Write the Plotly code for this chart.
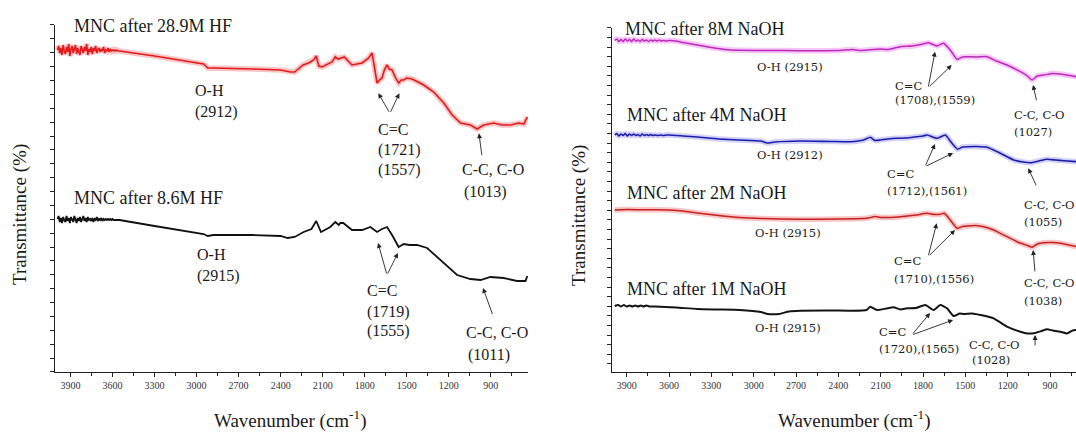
import plotly.graph_objects as go

# ---------------- data (wavenumber cm-1, transmittance a.u.) ----------------
# noisy high-wavenumber region of the HF spectra
hf_noise_wn = [3992, 3984, 3976, 3968, 3960, 3952, 3944, 3936, 3928, 3920, 3912, 3904, 3896, 3888,
               3880, 3872, 3864, 3856, 3848, 3840, 3832, 3824, 3816, 3808, 3800, 3792, 3784, 3776,
               3768, 3760, 3752, 3744, 3736, 3728, 3720, 3712, 3704, 3696, 3688, 3680, 3672, 3664,
               3656, 3648, 3640, 3632, 3624, 3616, 3608, 3600, 3592, 3584, 3576, 3568, 3560]
hf_28_9M_noise = [322, 326, 319, 324, 317, 327, 321, 318, 325, 320, 328, 316, 323, 326, 319, 322,
                  327, 318, 324, 320, 317, 326, 322, 319, 325, 321, 328, 317, 323, 320, 325, 318,
                  324, 321, 326, 319, 322, 324, 320, 323, 321, 325, 319, 322, 321, 324, 320, 323,
                  321, 322, 321, 322, 321, 322, 321]
hf_8_6M_noise = [153, 156, 150, 154, 149, 155, 152, 150, 156, 151, 154, 149, 155, 153, 150, 156,
                 152, 149, 154, 151, 155, 150, 153, 156, 151, 154, 150, 155, 152, 153, 151, 154,
                 150, 153, 152, 155, 151, 153, 152, 154, 151, 153, 152, 153, 152, 153, 152, 153,
                 152, 153, 152, 152, 152, 152, 152]

hf_28_9M = [(3550, 321), (3300, 316), (3000, 309), (2950, 308), (2920, 304), (2880, 304), (2600, 303),
            (2400, 302), (2330, 300), (2300, 300), (2240, 307), (2200, 309), (2165, 312), (2146, 316),
            (2128, 306), (2105, 305), (2034, 310), (2010, 315), (1990, 313), (1974, 314), (1946, 315),
            (1891, 307), (1819, 309), (1772, 314), (1748, 319), (1731, 305), (1712, 289), (1695, 292),
            (1677, 294), (1660, 302), (1641, 307), (1625, 303), (1605, 302), (1580, 294), (1558, 289),
            (1540, 292), (1522, 292), (1500, 294), (1462, 293), (1420, 290), (1379, 287), (1308, 280),
            (1236, 269), (1176, 257), (1117, 249), (1046, 247), (998, 243), (951, 247), (879, 249),
            (820, 247), (760, 247), (700, 249), (665, 248), (640, 255)]

hf_8_6M = [(3550, 152), (3300, 146), (3000, 139), (2950, 138), (2920, 136), (2880, 137), (2600, 137),
           (2400, 136), (2350, 134), (2300, 135), (2236, 140), (2180, 143), (2146, 151), (2112, 140),
           (2046, 145), (2010, 150), (1985, 147), (1974, 149), (1953, 149), (1891, 142), (1819, 142),
           (1760, 145), (1712, 140), (1677, 143), (1641, 145), (1605, 137), (1558, 125), (1522, 128),
           (1480, 127), (1427, 127), (1355, 124), (1284, 115), (1212, 105), (1141, 97), (1046, 93),
           (974, 92), (903, 95), (808, 94), (713, 91), (653, 91), (640, 96)]

naoh_8M = [(3985, 331.5), (3970, 333), (3955, 330.5), (3940, 332.5), (3925, 330.5), (3910, 333),
           (3895, 331), (3880, 332.5), (3865, 330.5), (3850, 333), (3835, 331), (3820, 332),
           (3805, 330.5), (3790, 332.5), (3775, 331), (3760, 332), (3745, 330.5), (3730, 332),
           (3715, 331), (3700, 332), (3685, 331), (3670, 332), (3655, 331), (3640, 331.5),
           (3620, 331), (3600, 331.5),
           (3550, 331), (3500, 329.5), (3400, 327), (3300, 324.5), (3200, 322.5), (3100, 321.8),
           (2900, 321.5), (2671, 321.3), (2400, 321.5), (2300, 322.5), (2250, 321.5), (2198, 322),
           (2100, 323), (2050, 322.5), (1961, 325.3), (1880, 326), (1800, 328), (1761, 329.3),
           (1701, 326), (1654, 328.7), (1607, 322), (1559, 312.7), (1520, 315), (1488, 315.3),
           (1420, 315), (1347, 315.3), (1280, 311), (1205, 307), (1110, 300.3), (1060, 296),
           (1027, 292), (990, 296), (945, 297), (880, 298.5), (827, 298), (760, 296.5), (713, 295.3)]

naoh_4M = [(3985, 237), (3970, 238.5), (3955, 236), (3940, 238), (3925, 236.5), (3910, 238.5),
           (3895, 236), (3880, 238), (3865, 236.5), (3850, 238), (3835, 236.5), (3820, 237.5),
           (3805, 236), (3790, 238), (3775, 236.5), (3760, 237.5), (3745, 236.5), (3730, 237.5),
           (3715, 236.5), (3700, 237), (3680, 236.5), (3660, 237), (3640, 236.5), (3620, 237),
           (3600, 237),
           (3500, 236), (3400, 235), (3250, 233), (3100, 232), (2950, 231), (2905, 229), (2850, 230),
           (2671, 231), (2450, 230.5), (2316, 230.3), (2220, 232), (2174, 234.7), (2140, 231.5),
           (2103, 232), (2050, 233), (1985, 233.7), (1920, 234), (1843, 235.3), (1800, 236),
           (1772, 237), (1701, 233.7), (1642, 237), (1595, 228.7), (1555, 222.7), (1520, 225),
           (1488, 225.3), (1420, 225.5), (1347, 224.7), (1300, 222), (1252, 218.7), (1158, 212),
           (1090, 210), (1039, 209.3), (980, 211), (921, 212.7), (860, 212), (803, 211.3), (713, 210.3)]

naoh_2M = [(3985, 162), (3900, 162.5), (3800, 162.3), (3700, 162.2), (3600, 162), (3500, 161),
           (3400, 159), (3250, 156.5), (3100, 154.5), (2950, 153.5), (2671, 152.7), (2400, 153),
           (2198, 153.7), (2140, 155.5), (2100, 154.5), (1961, 155.3), (1850, 157), (1772, 158.7),
           (1720, 157.5), (1678, 157.7), (1650, 158.7), (1607, 152), (1559, 143.7), (1520, 145.5),
           (1488, 146), (1430, 146.5), (1370, 145.3), (1300, 142), (1252, 138.7), (1134, 130.3),
           (1060, 126.5), (1027, 124.7), (990, 128), (945, 129.3), (880, 129.5), (827, 128.7),
           (713, 125.3)]

naoh_1M = [(3985, 66), (3960, 67), (3940, 65.5), (3920, 67), (3900, 65.5), (3880, 66.5), (3860, 65.5),
           (3840, 66.5), (3820, 65.5), (3800, 66.5), (3780, 65.5), (3760, 66.5), (3740, 65.5),
           (3700, 65.5), (3550, 64.5), (3400, 63), (3250, 62.5), (3100, 62), (2950, 60), (2900, 58),
           (2820, 58), (2750, 60.5), (2671, 61.3), (2450, 61.5), (2316, 61.3), (2200, 62),
           (2174, 65.3), (2127, 62), (2060, 63.5), (2009, 64.7), (1960, 62.5), (1914, 63.7),
           (1850, 64), (1784, 67), (1725, 62), (1678, 67), (1630, 63.7), (1583, 56), (1540, 58.5),
           (1512, 58), (1450, 58.5), (1394, 57), (1300, 53.7), (1205, 45.3), (1110, 40.3),
           (1060, 38.5), (1016, 38.7), (960, 41), (921, 42.7), (880, 41.5), (827, 40.3), (780, 38.5),
           (740, 41.5), (713, 42)]

x_ticks = [3900, 3600, 3300, 3000, 2700, 2400, 2100, 1800, 1500, 1200, 900]

# ---------------- figure ----------------
SERIF = "Liberation Serif, Times New Roman, serif"
SMALL = "DejaVu Serif, serif"
fig = go.Figure()


def xy(pairs):
    return [p[0] for p in pairs], [p[1] for p in pairs]


def add_curve(x, y, xa, ya, color, width, halo=None, shape="linear"):
    if halo:
        fig.add_trace(go.Scatter(x=x, y=y, xaxis=xa, yaxis=ya, mode="lines",
                                 line=dict(color=halo, width=width + 4, shape=shape, smoothing=0.5),
                                 hoverinfo="skip", showlegend=False))
    fig.add_trace(go.Scatter(x=x, y=y, xaxis=xa, yaxis=ya, mode="lines",
                             line=dict(color=color, width=width, shape=shape, smoothing=0.5),
                             showlegend=False))


x28, y28 = xy(hf_28_9M)
x86, y86 = xy(hf_8_6M)
add_curve(hf_noise_wn + x28, hf_28_9M_noise + y28, "x", "y", "#e31a1c", 1.6,
          halo="rgba(240,60,60,0.30)")
add_curve(hf_noise_wn + x86, hf_8_6M_noise + y86, "x", "y", "#111111", 1.8)
add_curve(*xy(naoh_8M), "x2", "y2", "#b82cb8", 1.5, halo="rgba(240,90,240,0.35)", shape="spline")
add_curve(*xy(naoh_4M), "x2", "y2", "#1c1caa", 1.6, halo="rgba(70,70,230,0.25)", shape="spline")
add_curve(*xy(naoh_2M), "x2", "y2", "#c42020", 1.5, halo="rgba(240,90,90,0.35)", shape="spline")
add_curve(*xy(naoh_1M), "x2", "y2", "#141414", 2.0, shape="spline")

# text labels: (text, wavenumber, T, axis, size, font)
labels = [
    ("MNC after 28.9M HF", 3889, 346, "1", 18, SERIF),
    ("O-H", 3025, 281, "1", 16, SERIF), ("(2912)", 3025, 260, "1", 16, SERIF),
    ("C=C", 1720, 242, "1", 16, SERIF), ("(1721)", 1720, 222, "1", 16, SERIF),
    ("(1557)", 1720, 202, "1", 16, SERIF),
    ("C-C, C-O", 1120, 202, "1", 16, SERIF), ("(1013)", 1106, 180, "1", 16, SERIF),
    ("MNC after 8.6M HF", 3889, 174, "1", 18, SERIF),
    ("O-H", 3011, 117, "1", 16, SERIF), ("(2915)", 3011, 96, "1", 16, SERIF),
    ("C=C", 1798, 81, "1", 16, SERIF), ("(1719)", 1798, 60, "1", 16, SERIF),
    ("(1555)", 1798, 41, "1", 16, SERIF),
    ("C-C, C-O", 1092, 39, "1", 16, SERIF), ("(1011)", 1078, 17, "1", 16, SERIF),
    # right panel
    ("MNC after 8M NaOH", 3926, 343, "2", 18, SERIF),
    ("O-H (2915)", 2991, 305, "2", 11.5, SMALL),
    ("C=C", 2013, 286, "2", 11.5, SMALL), ("(1708),(1559)", 2013, 272, "2", 11.5, SMALL),
    ("C-C, C-O", 1169, 257, "2", 11.5, SMALL), ("(1027)", 1169, 240, "2", 11.5, SMALL),
    ("MNC after 4M NaOH", 3912, 257, "2", 18, SERIF),
    ("O-H (2912)", 2991, 217, "2", 11.5, SMALL),
    ("C=C", 2069, 198, "2", 11.5, SMALL), ("(1712),(1561)", 2069, 181, "2", 11.5, SMALL),
    ("C-C, C-O", 1098, 167, "2", 11.5, SMALL), ("(1055)", 1098, 150, "2", 11.5, SMALL),
    ("MNC after 2M NaOH", 3912, 179, "2", 18, SERIF),
    ("O-H (2915)", 3005, 139, "2", 11.5, SMALL),
    ("C=C", 2020, 111, "2", 11.5, SMALL), ("(1710),(1556)", 2020, 93, "2", 11.5, SMALL),
    ("C-C, C-O", 1098, 89, "2", 11.5, SMALL), ("(1038)", 1098, 71, "2", 11.5, SMALL),
    ("MNC after 1M NaOH", 3912, 83, "2", 18, SERIF),
    ("O-H (2915)", 3005, 44, "2", 11.5, SMALL),
    ("C=C", 2126, 40, "2", 11.5, SMALL), ("(1720),(1565)", 2126, 23, "2", 11.5, SMALL),
    ("C-C, C-O", 1488, 27, "2", 11.5, SMALL), ("(1028)", 1470, 12, "2", 11.5, SMALL),
]

# arrows: (tail_wn, tail_T, tip_wn, tip_T, axis)
arrows = [
    (1620, 258.7, 1703, 278.7, "1"), (1620, 258.7, 1553, 278.7, "1"),
    (963, 215.3, 985, 238.7, "1"),
    (1641, 97, 1705, 129, "1"), (1641, 97, 1563, 119, "1"),
    (885, 56.5, 956, 84, "1"),
    (1764, 284, 1715, 320.3, "2"), (1764, 284, 1597, 307, "2"),
    (994, 270.3, 1020, 287, "2"),
    (1786, 205.3, 1715, 228, "2"), (1786, 205.3, 1587, 219, "2"),
    (994, 185.3, 1054, 203.7, "2"),
    (1764, 115.3, 1703, 148.7, "2"), (1764, 115.3, 1573, 142, "2"),
    (1006, 99, 1020, 122, "2"),
    (1880, 37, 1750, 59, "2"), (1880, 37, 1587, 52, "2"),
    (1006, 25, 1006, 37, "2"),
]

ann = []
for text, w, t, ax, size, fam in labels:
    ann.append(dict(text=text, x=w, y=t, xref="x" if ax == "1" else "x2",
                    yref="y" if ax == "1" else "y2", showarrow=False, xanchor="left",
                    yanchor="middle", font=dict(family=fam, size=size, color="#1a1a1a")))
for tw, tt, hw, ht, ax in arrows:
    xr = "x" if ax == "1" else "x2"
    yr = "y" if ax == "1" else "y2"
    ann.append(dict(text="", x=hw, y=ht, ax=tw, ay=tt, xref=xr, yref=yr, axref=xr, ayref=yr,
                    showarrow=True, arrowhead=2, arrowsize=1.1, arrowwidth=0.9,
                    arrowcolor="#222", standoff=0, startstandoff=0))

# axis titles
for xc in (0.0186, 0.538):
    ann.append(dict(text="Transmittance (%)", x=xc, y=0.5023, xref="paper", yref="paper",
                    showarrow=False, textangle=-90, xanchor="center", yanchor="middle",
                    font=dict(family=SERIF, size=19, color="#1a1a1a")))
for xc in (0.2704, 0.7946):
    ann.append(dict(text="Wavenumber (cm<sup>-1</sup>)", x=xc, y=0.028, xref="paper",
                    yref="paper", showarrow=False, xanchor="center", yanchor="middle",
                    font=dict(family=SERIF, size=19, color="#1a1a1a")))

xcommon = dict(showgrid=False, zeroline=False, showline=True, linecolor="#222", linewidth=1.3,
               ticks="outside", ticklen=4, tickwidth=1, tickcolor="#222", tickvals=x_ticks,
               tickfont=dict(family=SERIF, size=10, color="#333"),
               minor=dict(ticks="outside", ticklen=3, dtick=150, tick0=900, tickcolor="#222"))
ycommon = dict(showgrid=False, zeroline=False, showline=True, linecolor="#222", linewidth=1.3,
               showticklabels=False, ticks="outside", ticklen=4, tickwidth=1, tickcolor="#222")

fig.update_layout(
    width=1076, height=432, margin=dict(l=0, r=0, t=0, b=0),
    paper_bgcolor="white", plot_bgcolor="white", showlegend=False,
    xaxis=dict(domain=[0.05112, 0.49071], range=[4010, 635], anchor="y", **xcommon),
    yaxis=dict(domain=[0.13889, 0.94213], range=[0, 347], anchor="x", tick0=0, dtick=13.88,
               **ycommon),
    xaxis2=dict(domain=[0.56877, 1.0], range=[4004, 716], anchor="y2", **xcommon),
    yaxis2=dict(domain=[0.13889, 0.93519], range=[0, 344], anchor="x2", tick0=8, dtick=9.6,
                **ycommon),
    annotations=ann,
)

fig.write_html("out.html")
